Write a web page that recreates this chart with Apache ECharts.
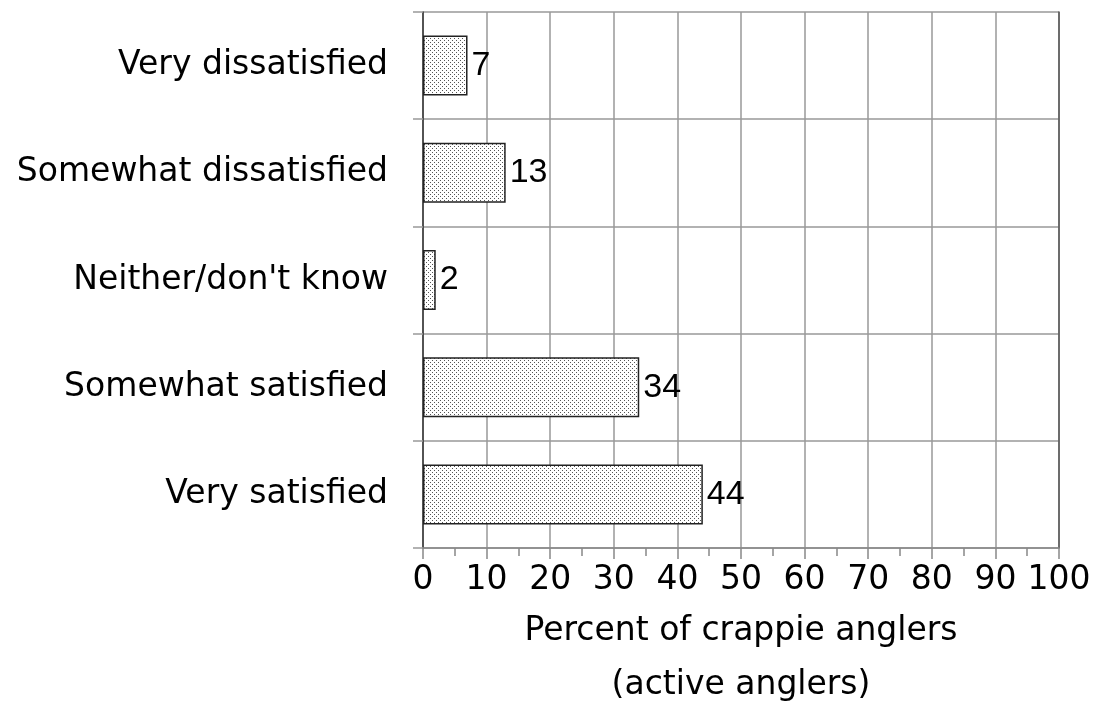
<!DOCTYPE html>
<html>
<head>
<meta charset="utf-8">
<script src="https://cdn.jsdelivr.net/npm/echarts@6/dist/echarts.min.js"></script>
<style>
html,body{margin:0;padding:0;background:#fff;}
#chart{width:1094px;height:721px;}
</style>
</head>
<body>
<div id="chart"></div>
<script>
const categories = ['Very dissatisfied', 'Somewhat dissatisfied', "Neither/don't know", 'Somewhat satisfied', 'Very satisfied'];
const values = [7, 13, 2, 34, 44];
const xTicks = [0, 10, 20, 30, 40, 50, 60, 70, 80, 90, 100];
const xAxisTitle = 'Percent of crappie anglers\n(active anglers)';

// dotted fill pattern
const pat = document.createElement('canvas');
pat.width = 4; pat.height = 4;
const pc = pat.getContext('2d');
pc.fillStyle = '#ffffff'; pc.fillRect(0, 0, 4, 4);
pc.fillStyle = '#555555';
pc.fillRect(0, 0, 1, 1);
pc.fillRect(2, 2, 1, 1);

const chart = echarts.init(document.getElementById('chart'), null, {renderer: 'canvas'});
const FONT = 'DejaVu Sans';
chart.setOption({
  animation: false,
  backgroundColor: '#ffffff',
  grid: {left: 423, right: 35, top: 12, bottom: 173, containLabel: false},
  xAxis: {
    type: 'value',
    min: xTicks[0], max: xTicks[xTicks.length - 1], interval: 10,
    axisLine: {show: true, lineStyle: {color: '#888', width: 1.5}},
    axisTick: {show: true, length: 11, lineStyle: {color: '#888', width: 1.5}},
    minorTick: {show: true, splitNumber: 2, length: 8, lineStyle: {color: '#888', width: 1.5}},
    splitLine: {show: true, lineStyle: {color: '#999', width: 1.5}},
    axisLabel: {fontFamily: FONT, fontSize: 33, color: '#000', margin: 16},
    name: xAxisTitle,
    nameLocation: 'middle',
    nameGap: 56,
    nameTextStyle: {fontFamily: FONT, fontSize: 33, color: '#000', lineHeight: 54}
  },
  yAxis: [{
    type: 'category',
    data: categories,
    inverse: true,
    axisLine: {show: true, lineStyle: {color: '#333', width: 1.5}},
    axisTick: {show: true, length: 10, alignWithLabel: false, lineStyle: {color: '#999', width: 1.5}},
    splitLine: {show: true, lineStyle: {color: '#999', width: 1.5}},
    axisLabel: {fontFamily: FONT, fontSize: 33, color: '#000', margin: 35}
  }, {
    type: 'category',
    data: categories,
    inverse: true,
    position: 'right',
    axisLine: {show: true, lineStyle: {color: '#555', width: 1.5}},
    axisTick: {show: false},
    axisLabel: {show: false},
    splitLine: {show: false}
  }],
  series: [{
    type: 'bar',
    data: values,
    barWidth: '56%',
    itemStyle: {color: {image: pat, repeat: 'repeat'}, borderColor: '#222', borderWidth: 1.5},
    label: {show: true, position: 'right', distance: 4, fontFamily: 'Liberation Sans', fontSize: 34, color: '#000'}
  }]
});
</script>
</body>
</html>
